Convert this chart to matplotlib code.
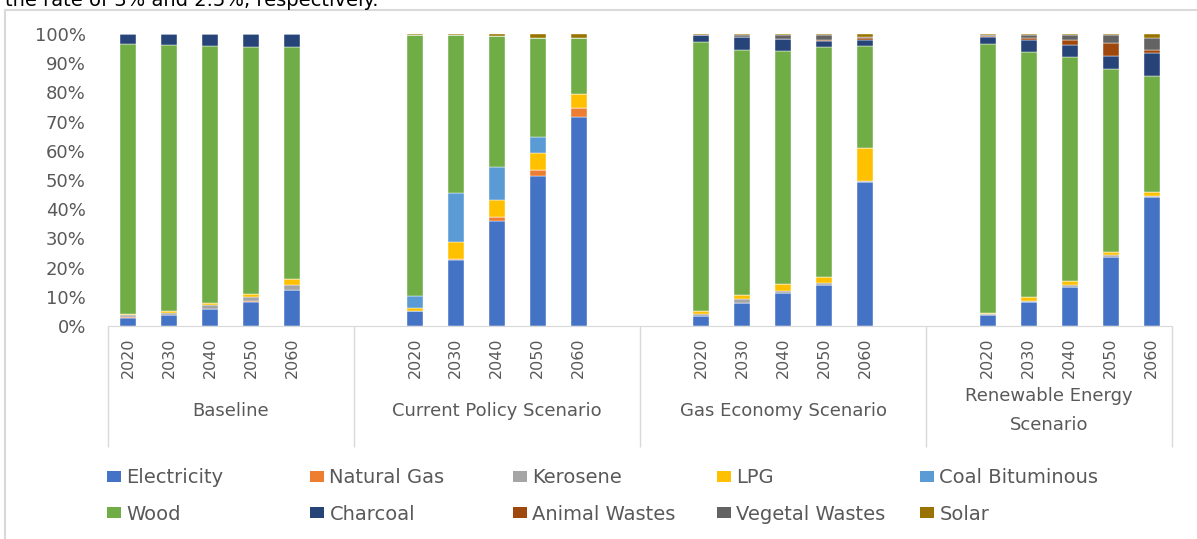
import numpy as np
import matplotlib
matplotlib.use("Agg")
import matplotlib.pyplot as plt
from matplotlib.patches import Patch, Rectangle

# --- data (shares in %) ---
years = ["2020", "2030", "2040", "2050", "2060"]
scenarios = ["Baseline", "Current Policy Scenario", "Gas Economy Scenario",
             "Renewable Energy\nScenario"]
fuels = ["Electricity", "Natural Gas", "Kerosene", "LPG", "Coal Bituminous",
         "Wood", "Charcoal", "Animal Wastes", "Vegetal Wastes", "Solar"]
colors = ["#4472C4", "#ED7D31", "#A5A5A5", "#FFC000", "#5B9BD5",
          "#70AD47", "#264478", "#9E480E", "#636363", "#997300"]

# one row per fuel, 5 years per scenario
baseline = [
    [2.9, 3.6, 5.7, 8.3, 12.3],      # Electricity
    [0.1, 0.1, 0.1, 0.1, 0.1],       # Natural Gas
    [0.6, 0.9, 1.5, 1.4, 1.5],       # Kerosene
    [0.4, 0.4, 0.5, 1.1, 2.3],       # LPG
    [0, 0, 0, 0, 0],                 # Coal Bituminous
    [92.6, 91.1, 88.0, 84.5, 79.2],  # Wood
    [3.4, 3.9, 4.2, 4.6, 4.6],       # Charcoal
    [0, 0, 0, 0, 0],                 # Animal Wastes
    [0, 0, 0, 0, 0],                 # Vegetal Wastes
    [0, 0, 0, 0, 0],                 # Solar
]
current_policy = [
    [5.1, 22.5, 36.0, 51.5, 71.5],
    [0.1, 0.4, 1.2, 1.9, 3.0],
    [0, 0, 0, 0, 0],
    [0.8, 5.7, 6.1, 5.9, 5.1],
    [4.3, 17.0, 11.2, 5.5, 0],
    [89.4, 53.9, 44.7, 33.9, 19.1],
    [0, 0, 0, 0, 0],
    [0, 0, 0, 0, 0],
    [0, 0, 0, 0, 0],
    [0.3, 0.5, 0.8, 1.3, 1.3],
]
gas_economy = [
    [3.4, 8.0, 11.4, 13.9, 49.3],
    [0, 0, 0, 0, 0],
    [0.8, 1.1, 0.7, 0.8, 0.5],
    [0.8, 1.5, 2.2, 2.2, 11.3],
    [0, 0, 0, 0, 0],
    [92.3, 84.0, 80.0, 78.5, 34.7],
    [2.4, 4.3, 4.0, 2.3, 2.3],
    [0, 0, 0, 0.4, 0.4],
    [0.1, 0.9, 1.5, 1.7, 0.5],
    [0.2, 0.2, 0.2, 0.2, 1.0],
]
renewable = [
    [3.9, 8.3, 13.5, 23.6, 44.1],
    [0, 0, 0, 0, 0],
    [0.2, 0.3, 0.6, 0.6, 0.4],
    [0.3, 1.2, 1.2, 1.0, 1.5],
    [0, 0, 0, 0, 0],
    [92.2, 84.0, 76.8, 62.8, 39.7],
    [2.3, 4.3, 4.0, 4.4, 7.8],
    [0.3, 0.6, 2.0, 4.4, 1.1],
    [0.5, 1.0, 1.6, 2.9, 4.1],
    [0.3, 0.3, 0.3, 0.3, 1.3],
]
groups = [baseline, current_policy, gas_economy, renewable]

# slot layout like the excel sheet (blank rows between scenarios)
group_start = [0, 7, 14, 21]
separators = [-0.5, 5.5, 12.5, 19.5, 25.5]
label_x = [2.5, 9, 16, 22.5]

W, H = 1197, 539
fig = plt.figure(figsize=(W / 100, H / 100), dpi=100)
plt.rcParams['font.family'] = ['DejaVu Sans']
grey = "#595959"

# chart frame and the clipped sentence above it
fig.patches.append(Rectangle((5 / W, -0.2), 1.2, 1.2 - 10 / H, transform=fig.transFigure,
                             fill=False, edgecolor="#D9D9D9", linewidth=1.5))
fig.text(5 / W, 1 - 6 / H, "the rate of 3% and 2.5%, respectively.",
         fontsize=14, color="black", va="baseline")

ax = fig.add_axes([108 / W, (H - 326) / H, (1172 - 108) / W, 292 / H])

xs_all = []
for g, data in enumerate(groups):
    xs = np.arange(5) + group_start[g]
    xs_all.extend(xs)
    bottom = np.zeros(5)
    for i, vals in enumerate(data):
        vals = np.array(vals, dtype=float)
        ax.bar(xs, vals, 0.39, bottom=bottom, color=colors[i],
               edgecolor="white", linewidth=0.3)
        bottom += vals

ax.set_xlim(-0.5, 25.5)
ax.set_ylim(0, 100)
ax.set_yticks(range(0, 101, 10))
ax.set_yticklabels([f"{v}%" for v in range(0, 101, 10)], fontsize=13, color=grey)
ax.set_xticks(xs_all)
ax.set_xticklabels(years * 4, rotation=90, fontsize=11.5, color=grey)
ax.tick_params(axis="y", length=0, pad=16)
ax.tick_params(axis="x", length=0, pad=8.5)
for s in ["top", "right", "left"]:
    ax.spines[s].set_visible(False)
ax.spines["bottom"].set_color("#D9D9D9")

# multi-level category axis
ax.vlines(separators, -41.4, 0, colors="#D9D9D9", linewidth=1, clip_on=False)
for x, name in zip(label_x, scenarios):
    ax.text(x, -29.0, name, ha="center", va="center", fontsize=13, color=grey,
            linespacing=1.75, clip_on=False)

# legend: 5 equal columns, 2 rows
col_x = [107, 310, 513, 717, 920]
for c in range(5):
    hs = [Patch(facecolor=colors[c]), Patch(facecolor=colors[c + 5])]
    fig.legend(hs, [fuels[c], fuels[c + 5]], loc="upper left",
               bbox_to_anchor=(col_x[c] / W, 1 - 468 / H), frameon=False,
               fontsize=14, labelcolor=grey, borderpad=0, borderaxespad=0,
               handlelength=0.7, handleheight=0.5, handletextpad=0.3,
               labelspacing=0.9)

fig.savefig("out.png", dpi=100)
